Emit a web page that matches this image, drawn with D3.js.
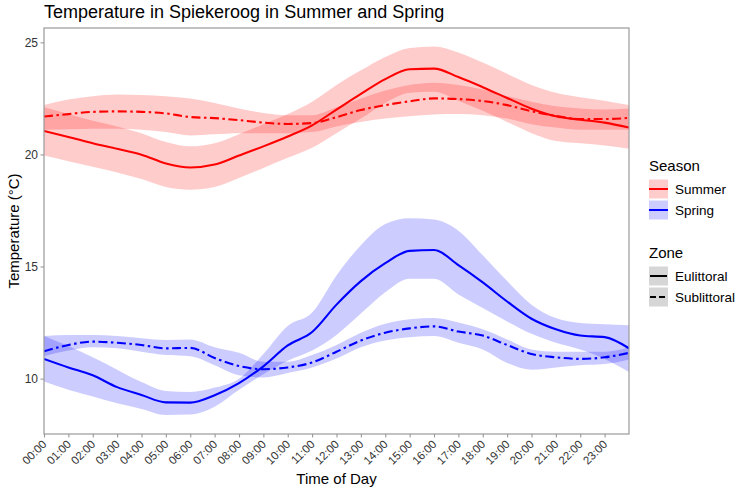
<!DOCTYPE html>
<html><head><meta charset="utf-8">
<script src="https://cdn.jsdelivr.net/npm/d3@7"></script>
<style>body{margin:0;background:#fff} text{font-family:"Liberation Sans",Arial,sans-serif}</style>
</head><body><svg id="c" width="740" height="496"></svg>
<script>
const hours = [0,1,2,3,4,5,6,7,8,9,10,11,12,13,14,15,16,17,18,19,20,21,22,23,24];
const tickHours = [0,1,2,3,4,5,6,7,8,9,10,11,12,13,14,15,16,17,18,19,20,21,22,23];
const tickLabels = ["00:00","01:00","02:00","03:00","04:00","05:00","06:00","07:00","08:00","09:00","10:00","11:00","12:00","13:00","14:00","15:00","16:00","17:00","18:00","19:00","20:00","21:00","22:00","23:00"];
const yTicks = [10,15,20,25];

// Summer, Eulittoral
const summerEuMean  = [21.05,20.78,20.5,20.25,19.99,19.6,19.42,19.55,19.95,20.36,20.8,21.3,22.0,22.7,23.36,23.8,23.83,23.45,23.0,22.52,22.04,21.7,21.55,21.42,21.2];
const summerEuUpper = [22.1,21.8,21.5,21.25,20.95,20.55,20.36,20.5,20.9,21.35,21.8,22.35,23.1,23.75,24.35,24.75,24.82,24.55,24.1,23.6,23.1,22.75,22.55,22.4,22.2];
const summerEuLower = [19.95,19.7,19.45,19.2,18.9,18.55,18.43,18.55,18.95,19.4,19.85,20.3,20.95,21.6,22.3,22.75,22.8,22.4,21.95,21.45,20.95,20.6,20.5,20.4,20.25];
// Summer, Sublittoral
const summerSubMean  = [21.69,21.8,21.9,21.92,21.9,21.83,21.67,21.62,21.53,21.42,21.36,21.4,21.66,21.98,22.2,22.37,22.5,22.47,22.38,22.2,21.93,21.72,21.58,21.58,21.63];
const summerSubUpper = [22.2,22.45,22.6,22.67,22.65,22.6,22.5,22.3,22.05,21.85,21.75,21.75,22.1,22.5,22.85,23.1,23.2,23.1,22.9,22.6,22.35,22.15,22.05,22.0,22.05];
const summerSubLower = [21.1,21.12,21.15,21.15,21.1,21.0,20.85,20.9,20.95,20.95,20.95,21.0,21.25,21.45,21.6,21.7,21.78,21.8,21.75,21.6,21.35,21.2,21.1,21.1,21.1];
// Spring, Eulittoral
const springEuMean  = [10.88,10.5,10.15,9.62,9.27,8.94,8.93,9.26,9.8,10.55,11.48,12.08,13.3,14.35,15.15,15.7,15.74,15.06,14.29,13.44,12.67,12.2,11.92,11.85,11.35];
const springEuUpper = [11.9,11.45,10.95,10.4,9.85,9.45,9.4,9.6,10.0,11.1,12.35,12.95,14.6,15.95,16.9,17.15,17.1,16.6,15.5,14.35,13.3,12.7,12.48,12.42,12.38];
const springEuLower = [9.87,9.5,9.2,8.9,8.65,8.38,8.4,8.75,9.5,10.2,10.8,11.25,11.95,12.9,13.85,14.45,14.45,13.75,13.15,12.55,12.0,11.6,11.3,10.88,10.3];
// Spring, Sublittoral
const springSubMean  = [11.22,11.5,11.65,11.6,11.5,11.35,11.37,10.92,10.56,10.42,10.5,10.72,11.2,11.7,12.05,12.24,12.33,12.1,11.92,11.5,11.1,10.95,10.88,10.95,11.15];
const springSubUpper = [11.9,11.95,11.95,11.9,11.8,11.72,11.75,11.4,11.15,10.75,10.75,11.05,11.5,12.05,12.45,12.65,12.7,12.5,12.2,11.75,11.3,11.2,11.2,11.2,11.4];
const springSubLower = [11.0,11.25,11.4,11.35,11.2,11.05,11.0,10.6,10.15,10.05,10.25,10.5,10.9,11.4,11.7,11.85,11.9,11.6,11.3,10.7,10.4,10.5,10.6,10.65,10.85];

const seasons = ["Summer","Spring"];
const zones = ["Eulittoral","Sublittoral"];
const seasonColor = {Summer:"#ff0000", Spring:"#0000ff"};
const zoneDash = {Eulittoral:null, Sublittoral:"9,3.5,2.5,3.5"};

const series = [
  {season:"Summer", zone:"Eulittoral", mean:summerEuMean, lo:summerEuLower, hi:summerEuUpper},
  {season:"Summer", zone:"Sublittoral", mean:summerSubMean, lo:summerSubLower, hi:summerSubUpper},
  {season:"Spring", zone:"Eulittoral", mean:springEuMean, lo:springEuLower, hi:springEuUpper},
  {season:"Spring", zone:"Sublittoral", mean:springSubMean, lo:springSubLower, hi:springSubUpper}
];

const svg = d3.select("#c");
const L=44, R=629, T=28, B=434;
const x = d3.scaleLinear().domain([0,24]).range([L,R]);
const y = d3.scaleLinear().domain([7.53,25.64]).range([B,T]);

svg.append("defs").append("clipPath").attr("id","clip")
  .append("rect").attr("x",L).attr("y",T).attr("width",R-L).attr("height",B-T);

const plot = svg.append("g").attr("clip-path","url(#clip)");
const curve = d3.curveMonotoneX;
const area = d3.area().x(d=>x(d.h)).y0(d=>y(d.lo)).y1(d=>y(d.hi)).curve(curve);
const line = d3.line().x(d=>x(d.h)).y(d=>y(d.v)).curve(curve);

series.forEach(s=>{
  const pts = hours.map((h,i)=>({h, lo:s.lo[i], hi:s.hi[i]}));
  plot.append("path").attr("d",area(pts)).attr("fill",seasonColor[s.season]).attr("fill-opacity",0.2);
});
series.forEach(s=>{
  const pts = hours.map((h,i)=>({h, v:s.mean[i]}));
  plot.append("path").attr("d",line(pts)).attr("fill","none")
    .attr("stroke",seasonColor[s.season]).attr("stroke-width",2.1)
    .attr("stroke-dasharray",zoneDash[s.zone]);
});

// panel border
svg.append("rect").attr("x",L).attr("y",T).attr("width",R-L).attr("height",B-T)
  .attr("fill","none").attr("stroke","#999").attr("stroke-width",1.2);

// axes
const yAxis = svg.append("g").attr("transform",`translate(${L},0)`)
  .call(d3.axisLeft(y).tickValues(yTicks).tickSize(3.5).tickPadding(2.5));
const xAxis = svg.append("g").attr("transform",`translate(0,${B})`)
  .call(d3.axisBottom(x).tickValues(tickHours).tickSize(3.5).tickFormat((d,i)=>tickLabels[i]));
[yAxis,xAxis].forEach(a=>{
  a.select(".domain").remove();
  a.selectAll(".tick line").attr("stroke","#999").attr("stroke-width",1.1);
  a.selectAll("text").attr("fill","#333");
});
yAxis.selectAll("text").style("font-size","12px");
xAxis.selectAll("text").style("font-size","11.5px").attr("text-anchor","end").attr("dy","0.72em")
  .attr("transform","translate(-3,5) rotate(-45)")
  .attr("y",0).attr("x",0);

// titles
svg.append("text").attr("x",L).attr("y",18).style("font-size","18px").attr("fill","#000")
  .text("Temperature in Spiekeroog in Summer and Spring");
svg.append("text").attr("x",(L+R)/2).attr("y",484).attr("text-anchor","middle")
  .style("font-size","15px").attr("fill","#000").text("Time of Day");
svg.append("text").attr("transform",`translate(19,${(T+B)/2}) rotate(-90)`).attr("text-anchor","middle")
  .style("font-size","15px").attr("fill","#000").text("Temperature (°C)");

// legend
const lg = svg.append("g");
const kx=649, kw=19, kh=19;
lg.append("text").attr("x",kx).attr("y",171).style("font-size","15px").text("Season");
seasons.forEach((s,i)=>{
  const cy = 189 + i*21;
  lg.append("rect").attr("x",kx).attr("y",cy-kh/2).attr("width",kw).attr("height",kh)
    .attr("fill",seasonColor[s]).attr("fill-opacity",0.2);
  lg.append("line").attr("x1",kx).attr("x2",kx+kw).attr("y1",cy).attr("y2",cy)
    .attr("stroke",seasonColor[s]).attr("stroke-width",2);
  lg.append("text").attr("x",kx+26).attr("y",cy).attr("dy","0.35em").style("font-size","13.5px").text(s);
});
lg.append("text").attr("x",kx).attr("y",258).style("font-size","15px").text("Zone");
zones.forEach((z,i)=>{
  const cy = 276 + i*21;
  lg.append("rect").attr("x",kx).attr("y",cy-kh/2).attr("width",kw).attr("height",kh)
    .attr("fill","#d6d6d6");
  lg.append("line").attr("x1",kx+1).attr("x2",kx+kw-1).attr("y1",cy).attr("y2",cy)
    .attr("stroke","#000").attr("stroke-width",2)
    .attr("stroke-dasharray", z==="Sublittoral" ? "6,3" : null);
  lg.append("text").attr("x",kx+26).attr("y",cy).attr("dy","0.35em").style("font-size","13.5px").text(z);
});
</script></body></html>
